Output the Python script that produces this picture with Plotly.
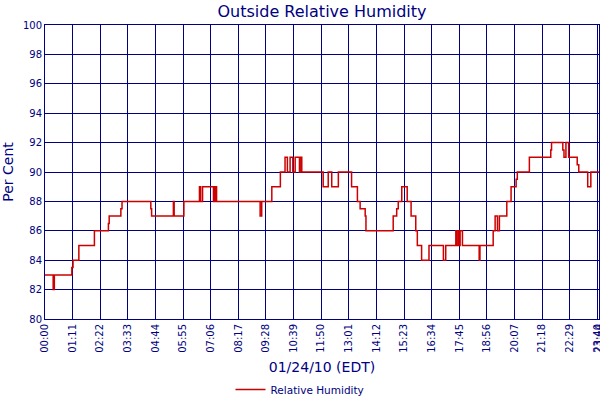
import plotly.graph_objects as go

# minute of day at which the reading changes, and the reading from then on
change_minutes = [0, 21, 24, 69, 72, 87, 127, 163, 165, 195, 198, 272, 274, 330, 332,
                  357, 397, 400, 405, 433, 435, 437, 440, 441, 553, 557, 583, 605,
                  617, 623, 630, 637, 643, 654, 656, 660, 715, 728, 737, 754, 788,
                  803, 810, 823, 825, 895, 904, 908, 917, 931, 941, 953, 957, 968,
                  987, 1024, 1030, 1056, 1058, 1062, 1065, 1067, 1073, 1116, 1118,
                  1152, 1157, 1163, 1168, 1187, 1198, 1211, 1214, 1245, 1300, 1302,
                  1331, 1334, 1339, 1346, 1368, 1372, 1395, 1403, 1424]
humidity = [83, 82, 83, 83.5, 84, 85, 86, 86.5, 87, 87.5, 88, 87.5, 87, 88, 87,
            88, 89, 88, 89, 88, 89, 88, 89, 88, 87, 88, 89, 90,
            91, 90, 91, 90, 91, 90, 91, 90, 89, 90, 89, 90, 89,
            88, 87.5, 87, 86, 87, 87.5, 88, 89, 88, 87, 86, 85, 84,
            85, 84, 85, 86, 85, 86, 85, 86, 85, 84, 85,
            86, 87, 86, 87, 88, 89, 89.5, 90, 91, 91.5, 92,
            91.5, 91, 92, 91, 90.5, 90, 89, 90, 90]

tick_minutes = [0, 71, 142, 213, 284, 355, 426, 497, 568, 639, 710, 781, 852,
                923, 994, 1065, 1136, 1207, 1278, 1349, 1420, 1424]
tick_labels = ["00:00", "01:11", "02:22", "03:33", "04:44", "05:55", "07:06",
               "08:17", "09:28", "10:39", "11:50", "13:01", "14:12", "15:23",
               "16:34", "17:45", "18:56", "20:07", "21:18", "22:29", "23:40", "23:44"]
y_ticks = [80, 82, 84, 86, 88, 90, 92, 94, 96, 98, 100]

NAVY = "#000080"
FONT = "DejaVu Sans"

fig = go.Figure()
fig.add_trace(go.Scatter(
    x=change_minutes, y=humidity, mode="lines", line_shape="hv",
    line=dict(color="#cc0000", width=1.5), name="Relative Humidity",
    showlegend=True))

fig.update_layout(
    width=600, height=400,
    margin=dict(l=45, r=1, t=25, b=81, autoexpand=False),
    paper_bgcolor="white", plot_bgcolor="white",
    font=dict(family=FONT, color=NAVY),
    title=dict(text="Outside Relative Humidity", x=0.5, xref="paper",
               y=1 - 11 / 400, yanchor="middle", yref="container",
               font=dict(size=16, color=NAVY, family=FONT)),
    showlegend=True,
    legend=dict(orientation="h", x=0.5, xref="container", xanchor="center",
                y=1 - 375 / 400, yref="container", yanchor="top",
                font=dict(size=10.5, color=NAVY, family=FONT),
                bgcolor="rgba(0,0,0,0)", itemwidth=30),
)
fig.update_xaxes(
    range=[0, 1424], tickmode="array", tickvals=tick_minutes, ticktext=tick_labels,
    tickangle=-90, tickfont=dict(size=10, color=NAVY, family=FONT),
    showgrid=True, gridcolor=NAVY, gridwidth=1,
    showline=True, linecolor=NAVY, linewidth=1, mirror=True,
    ticks="", zeroline=False, automargin=False, ticklabeloverflow="allow",
    title=dict(text="01/24/10 (EDT)", font=dict(size=14, color=NAVY, family=FONT),
               standoff=10),
)
fig.update_yaxes(
    range=[80, 100], tickmode="array", tickvals=y_ticks,
    tickfont=dict(size=10, color=NAVY, family=FONT),
    showgrid=True, gridcolor=NAVY, gridwidth=1,
    showline=True, linecolor=NAVY, linewidth=1, mirror=True,
    ticks="", zeroline=False, automargin=False,
    title=dict(text="Per Cent", font=dict(size=14, color=NAVY, family=FONT),
               standoff=6),
)

fig.write_html("out.html", config={"displayModeBar": False},
               post_script="document.body.style.margin='0';document.body.style.overflow='hidden';")
